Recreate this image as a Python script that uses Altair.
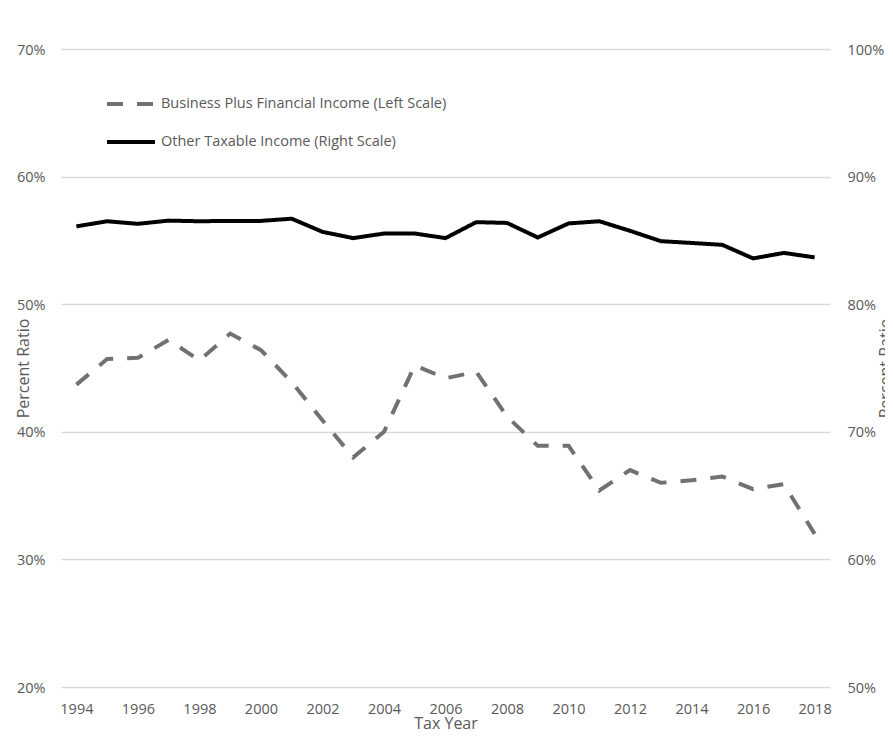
import altair as alt
import pandas as pd

years = [1994, 1995, 1996, 1997, 1998, 1999, 2000, 2001, 2002, 2003, 2004, 2005, 2006,
         2007, 2008, 2009, 2010, 2011, 2012, 2013, 2014, 2015, 2016, 2017, 2018]
business = [43.7, 45.7, 45.8, 47.2, 45.6, 47.7, 46.4, 43.9, 40.9, 38.0, 40.0, 45.2, 44.2,
            44.7, 41.2, 38.9, 38.9, 35.4, 37.0, 36.0, 36.2, 36.5, 35.5, 35.9, 32.0]
other = [86.1, 86.5, 86.3, 86.55, 86.5, 86.53, 86.53, 86.7, 85.67, 85.18, 85.54, 85.54, 85.18,
         86.43, 86.37, 85.23, 86.33, 86.5, 85.75, 84.94, 84.8, 84.65, 83.59, 84.02, 83.67]
series_names = ["Business Plus Financial Income (Left Scale)", "Other Taxable Income (Right Scale)"]
x_ticks = [1994, 1996, 1998, 2000, 2002, 2004, 2006, 2008, 2010, 2012, 2014, 2016, 2018]
left_ticks = [20, 30, 40, 50, 60, 70]
right_ticks = [50, 60, 70, 80, 90, 100]

df_b = pd.DataFrame({"year": years, "value": business, "series": series_names[0]})
df_o = pd.DataFrame({"year": years, "value": other, "series": series_names[1]})

FONT = "Open Sans"
GREY = "#595959"

legend = alt.Legend(
    title=None, orient="none", legendX=44, legendY=29,
    symbolType="stroke", symbolSize=2304, symbolStrokeWidth=4,
    labelFont=FONT, labelFontSize=14.5, labelColor=GREY, labelOffset=4, labelLimit=500,
    rowPadding=4, padding=0,
)
color = alt.Color("series:N", scale=alt.Scale(domain=series_names, range=["#717171", "#000000"]), legend=legend)
dash = alt.StrokeDash("series:N", scale=alt.Scale(domain=series_names, range=[[16, 14], [1, 0]]), legend=legend)

x_enc = alt.X(
    "year:Q",
    scale=alt.Scale(domain=[1993.5, 2018.5], nice=False, zero=False),
    axis=alt.Axis(
        values=x_ticks, format="d", grid=False, ticks=False, tickSize=0, domain=False,
        labelFont=FONT, labelFontSize=14.5, labelColor=GREY, labelPadding=15,
        title="Tax Year", titleFont=FONT, titleFontSize=16, titleFontWeight="normal",
        titleColor=GREY, titleY=41, titleBaseline="alphabetic",
    ),
)

left = alt.Chart(df_b).mark_line(strokeWidth=4).encode(
    x=x_enc,
    y=alt.Y(
        "value:Q",
        scale=alt.Scale(domain=[20, 70], nice=False, zero=False),
        axis=alt.Axis(
            orient="left", values=left_ticks, labelExpr="datum.value + '%'",
            grid=True, gridColor="#d9d9d9", gridWidth=1.5, ticks=False, tickSize=0, domain=False,
            labelFont=FONT, labelFontSize=14.5, labelColor=GREY, labelPadding=16, labelOffset=1,
            title="Percent Ratio", titleFont=FONT, titleFontSize=16, titleFontWeight="normal",
            titleColor=GREY, titleX=-33, titleY=319, titleAngle=270, titleBaseline="alphabetic",
            titleAlign="center",
        ),
    ),
    color=color,
    strokeDash=dash,
)

right = alt.Chart(df_o).mark_line(strokeWidth=4).encode(
    x=x_enc,
    y=alt.Y(
        "value:Q",
        scale=alt.Scale(domain=[50, 100], nice=False, zero=False),
        axis=alt.Axis(
            orient="right", values=right_ticks, labelExpr="datum.value + '%'",
            grid=False, ticks=False, tickSize=0, domain=False,
            labelFont=FONT, labelFontSize=14.5, labelColor=GREY, labelPadding=17, labelOffset=1,
            title="Percent Ratio", titleFont=FONT, titleFontSize=16, titleFontWeight="normal",
            titleColor=GREY, titleX=60, titleY=319, titleAngle=270, titleBaseline="alphabetic",
            titleAlign="center",
        ),
    ),
    color=color,
    strokeDash=dash,
)

chart = alt.layer(left, right).resolve_scale(y="independent").properties(
    width=769, height=638,
    autosize=alt.AutoSizeParams(type="none"),
    padding={"left": 53, "top": 41, "right": 55, "bottom": 45},
    background="white",
).configure_view(stroke=None)

chart.save("out.html", embed_options={"renderer": "svg", "actions": False})
